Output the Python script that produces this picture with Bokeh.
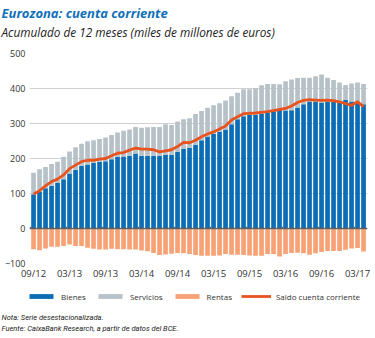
from bokeh.plotting import figure
from bokeh.layouts import column
from bokeh.models import Range1d, FixedTicker, Span, Legend, LegendItem, ColumnDataSource, Title
from bokeh.embed import file_html
from bokeh.resources import INLINE

# ---- data (miles de millones de euros, acumulado 12 meses), 09/12 .. 04/17 ----
tick_labels = ["09/12", "03/13", "09/13", "03/14", "09/14", "03/15", "09/15", "03/16", "09/16", "03/17"]
tick_index = [0, 6, 12, 18, 24, 30, 36, 42, 48, 54]

bienes = [98, 106, 115, 122, 130, 141, 157, 168, 179, 183, 187, 190, 192, 198, 205, 206, 208, 214,
          208, 208, 208, 208, 210, 210, 219, 227, 230, 239, 252, 263, 270, 276, 283, 298, 312, 321,
          324, 324, 327, 331, 336, 341, 337, 338, 346, 355, 363, 363, 360, 363, 365, 363, 367, 363, 360, 355]
servicios = [61, 63, 61, 62, 61, 64, 63, 64, 63, 66, 65, 66, 68, 69, 69, 73, 75, 76,
             80, 81, 82, 82, 88, 86, 87, 85, 85, 88, 84, 82, 82, 82, 83, 80, 76, 77,
             74, 77, 82, 82, 77, 71, 84, 88, 84, 76, 68, 72, 80, 68, 59, 54, 43, 51, 57, 58]
rentas = [-59, -62, -57, -52, -52, -50, -46, -50, -50, -55, -58, -60, -60, -58, -59, -59, -60, -60,
          -63, -65, -70, -76, -74, -72, -70, -71, -73, -76, -78, -78, -78, -77, -73, -75, -75, -76,
          -77, -78, -78, -73, -73, -80, -73, -70, -69, -71, -75, -71, -67, -64, -64, -64, -61, -57, -56, -66]
saldo = [98, 108, 122, 134, 141, 153, 171, 181, 191, 195, 195, 198, 200, 208, 215, 217, 224, 230,
         227, 227, 225, 219, 222, 225, 234, 246, 245, 252, 262, 270, 276, 284, 293, 310, 319, 328,
         329, 330, 332, 334, 337, 340, 343, 350, 360, 366, 368, 367, 366, 367, 365, 362, 357, 352, 362, 348]

series_names = ["Bienes", "Servicios", "Rentas", "Saldo cuenta corriente"]
title_text = "Eurozona: cuenta corriente"
subtitle_text = "Acumulado de 12 meses (miles de millones de euros)"
nota_text = "Nota: Serie desestacionalizada."
fuente_text = "Fuente: CaixaBank Research, a partir de datos del BCE."

x = list(range(len(bienes)))
total = [b + s for b, s in zip(bienes, servicios)]
src = ColumnDataSource(dict(x=x, bienes=bienes, total=total, rentas=rentas, saldo=saldo))

BLUE = "#0b6db5"
GREY = "#b7c1c8"
SALMON = "#f7a275"
RED = "#e8541f"
FONT = "Open Sans"
TXT_OFF = -28


def strip(h, top, bottom):
    f = figure(width=375, height=h, output_backend="svg", toolbar_location=None,
               x_range=Range1d(0, 1), y_range=Range1d(0, 1),
               x_axis_location=None, y_axis_location=None,
               min_border_left=29, min_border_right=8, min_border_top=top, min_border_bottom=bottom)
    f.grid.visible = False
    f.outline_line_color = None
    f.background_fill_color = "white"
    f.border_fill_color = "white"
    return f


# ---------------- header (title + subtitle) ----------------
head = strip(46, 0, 45)
head.add_layout(Title(text=title_text, align="left", offset=TXT_OFF, standoff=0, vertical_align="bottom",
                      text_font=FONT, text_font_size="13px", text_font_style="bold italic",
                      text_color="#1170b8"), "below")
head.add_layout(Title(text=subtitle_text, align="left", offset=TXT_OFF, standoff=4, vertical_align="top",
                      text_font=FONT, text_font_size="11.8px", text_font_style="italic",
                      text_color="#222222"), "below")

# ---------------- main chart ----------------
p = figure(width=375, height=236, output_backend="svg", toolbar_location=None,
           x_range=Range1d(-0.673, 55.66), y_range=Range1d(-100, 500),
           min_border_left=29, min_border_right=8, min_border_top=7, min_border_bottom=19)
p.outline_line_color = None
p.background_fill_color = "white"
p.border_fill_color = "white"

p.yaxis.ticker = FixedTicker(ticks=[-100, 0, 100, 200, 300, 400, 500])
p.yaxis.axis_line_color = None
p.yaxis.major_tick_line_color = None
p.yaxis.major_tick_out = 0
p.yaxis.major_tick_in = 0
p.yaxis.minor_tick_line_color = None
p.yaxis.minor_tick_out = 0
p.yaxis.major_label_standoff = 4
p.yaxis.major_label_text_font = FONT
p.yaxis.major_label_text_font_size = "9px"
p.yaxis.major_label_text_color = "#333333"

p.xaxis.ticker = FixedTicker(ticks=tick_index)
p.xaxis.major_label_overrides = {i: l for i, l in zip(tick_index, tick_labels)}
p.xaxis.axis_line_color = None
p.xaxis.major_tick_line_color = None
p.xaxis.major_tick_out = 0
p.xaxis.major_tick_in = 0
p.xaxis.minor_tick_line_color = None
p.xaxis.minor_tick_out = 0
p.xaxis.major_label_standoff = 3
p.xaxis.major_label_text_font = FONT
p.xaxis.major_label_text_font_size = "9.5px"
p.xaxis.major_label_text_color = "#333333"

p.xgrid.grid_line_color = None
p.ygrid.grid_line_color = "#d0d0d0"
p.ygrid.grid_line_width = 1

W = 0.78
p.vbar(x="x", width=W, bottom=0, top="bienes", color=BLUE, line_color=None, source=src)
p.vbar(x="x", width=W, bottom="bienes", top="total", color=GREY, line_color=None, source=src)
p.vbar(x="x", width=W, bottom="rentas", top=0, color=SALMON, line_color=None, source=src)

p.add_layout(Span(location=0, dimension="width", line_color="#5f5f5f", line_width=1.6))
tx = [i - 0.5 for i in tick_index]
p.segment(x0=tx, x1=tx, y0=[0] * len(tx), y1=[5] * len(tx), line_color="#5f5f5f", line_width=1)

p.line(x="x", y="saldo", color=RED, line_width=2.8, line_join="round", source=src)

# ---------------- legend + notes strip ----------------
lf = strip(56, 0, 28)
k_b = lf.vbar(x=[-5], width=0.1, top=[-5], bottom=[-6], color=BLUE, line_color=None)
k_s = lf.vbar(x=[-5], width=0.1, top=[-5], bottom=[-6], color=GREY, line_color=None)
k_r = lf.vbar(x=[-5], width=0.1, top=[-5], bottom=[-6], color=SALMON, line_color=None)
k_l = lf.line(x=[-6, -5], y=[-5, -5], color=RED, line_width=2.8)

legend = Legend(items=[LegendItem(label=n, renderers=[r]) for n, r in zip(series_names, [k_b, k_s, k_r, k_l])],
                orientation="horizontal", location=(-3, 8))
legend.glyph_width = 30
legend.glyph_height = 6
legend.label_height = 12
legend.label_width = 10
legend.label_standoff = 5
legend.spacing = 9
legend.padding = 0
legend.margin = 0
legend.border_line_color = None
legend.background_fill_alpha = 0
legend.label_text_font = FONT
legend.label_text_font_size = "8px"
legend.label_text_color = "#333333"
lf.add_layout(legend)

lf.add_layout(Title(text=nota_text, align="left", offset=TXT_OFF, standoff=0,
                    text_font="Roboto", text_font_size="7.5px", text_font_style="italic",
                    text_color="#222222"), "below")
lf.add_layout(Title(text=fuente_text, align="left", offset=TXT_OFF, standoff=0,
                    text_font="Roboto", text_font_size="7.5px", text_font_style="italic",
                    text_color="#222222"), "below")

layout = column(head, p, lf, spacing=0)
open("out.html", "w").write(file_html(layout, INLINE))
